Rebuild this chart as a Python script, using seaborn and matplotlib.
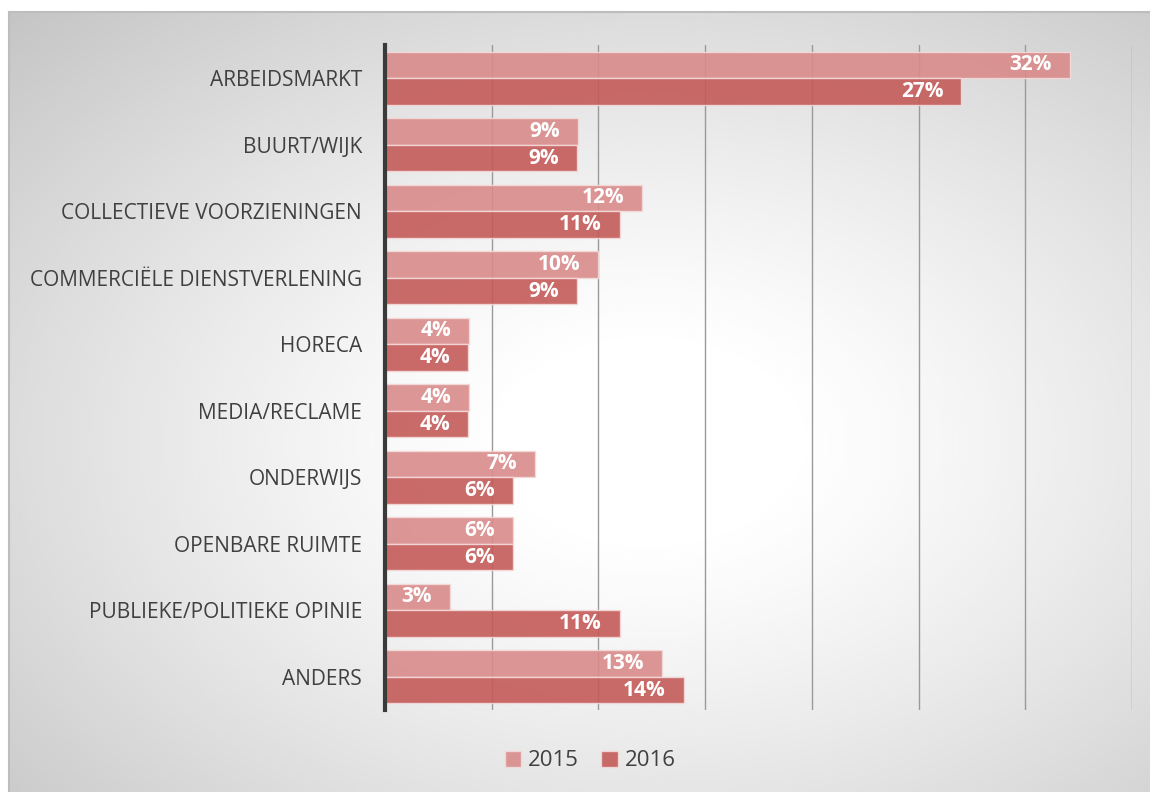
import numpy as np
import pandas as pd
import matplotlib
matplotlib.use("Agg")
import matplotlib.pyplot as plt
import seaborn as sns

# -------------------------------------------
# DATA
# -------------------------------------------
categories = [
    "ARBEIDSMARKT", "BUURT/WIJK", "COLLECTIEVE VOORZIENINGEN",
    "COMMERCIËLE DIENSTVERLENING", "HORECA", "MEDIA/RECLAME",
    "ONDERWIJS", "OPENBARE RUIMTE", "PUBLIEKE/POLITIEKE OPINIE", "ANDERS",
]
values_2015 = [32.1, 9.05, 12.05, 10.0, 3.95, 3.95, 7.05, 6.0, 3.05, 13.0]
values_2016 = [27.0, 9.0, 11.0, 9.0, 3.9, 3.9, 6.0, 6.0, 11.0, 14.0]
years = ["2015", "2016"]
colors = ["#D98B8A", "#C45B59"]

df = pd.DataFrame({
    "categorie": categories * 2,
    "jaar": [years[0]] * len(categories) + [years[1]] * len(categories),
    "waarde": values_2015 + values_2016,
})

sns.set_style("white")
plt.rcParams["font.family"] = ["Open Sans", "DejaVu Sans"]

fig = plt.figure(figsize=(11.5, 7.92), dpi=100)
fig.patch.set_facecolor("white")

# -------------------------------------------
# BACKGROUND (radial gradient frame)
# -------------------------------------------
bg = fig.add_axes([9 / 1150, 0, 1 - 9 / 1150, 1 - 12 / 792], zorder=0)
h, w = 390, 570
yy, xx = np.mgrid[0:h, 0:w]
cx, cy = 0.56 * w, 0.55 * h
r = np.sqrt(((xx - cx) / (0.56 * w)) ** 2 + ((yy - cy) / (0.55 * h)) ** 2) / np.sqrt(2)
t = np.clip((r - 0.15) / 0.85, 0, 1)
shade = 1.0 - 0.23 * t ** 1.2
bg.imshow(shade, cmap="gray", vmin=0, vmax=1, aspect="auto", interpolation="bicubic")
bg.set_xticks([])
bg.set_yticks([])
for side, s in bg.spines.items():
    s.set_color("#BDBDBD")
    s.set_linewidth(1.5)
    if side in ("right", "bottom"):
        s.set_visible(False)

# -------------------------------------------
# BARS
# -------------------------------------------
ax = fig.add_axes([385 / 1150, 1 - 710 / 792, (1132 - 385) / 1150, 665 / 792], zorder=1)
ax.patch.set_alpha(0)

sns.barplot(
    data=df, y="categorie", x="waarde", hue="jaar", orient="h",
    palette=colors, saturation=1, width=0.8, alpha=0.9,
    edgecolor="#F4DADA", linewidth=1, legend=True, ax=ax, zorder=3,
)

ax.set_xlim(0, 35)
ax.set_xticks(np.arange(0, 36, 5))
ax.xaxis.grid(True, color="#9A9A9A", linewidth=1)
ax.set_axisbelow(True)
ax.tick_params(axis="x", labelbottom=False, length=0)
ax.tick_params(axis="y", length=0, pad=16.5, labelsize=15, labelcolor="#404040")
ax.set_xlabel("")
ax.set_ylabel("")
for side in ["top", "right", "bottom"]:
    ax.spines[side].set_visible(False)
ax.spines["left"].set_color("#3A3A3A")
ax.spines["left"].set_linewidth(3)
ax.spines["left"].set_zorder(5)

# value labels
for cont in ax.containers:
    labels = [f"{round(b.get_width())}%" for b in cont]
    txts = ax.bar_label(cont, labels=labels, padding=-13, label_type="edge",
                        color="white", fontsize=15, fontweight="bold",
                        zorder=6)
    for t in txts:
        t.set_horizontalalignment("right")

# legend
ax.legend(
    loc="center", bbox_to_anchor=(590 / 1150, 1 - 761 / 792),
    bbox_transform=fig.transFigure, ncol=2, frameon=False,
    fontsize=16, labelcolor="#404040", handlelength=0.75, handleheight=0.75,
    handletextpad=0.3, columnspacing=1.0,
)

fig.savefig("out.png", dpi=100)
